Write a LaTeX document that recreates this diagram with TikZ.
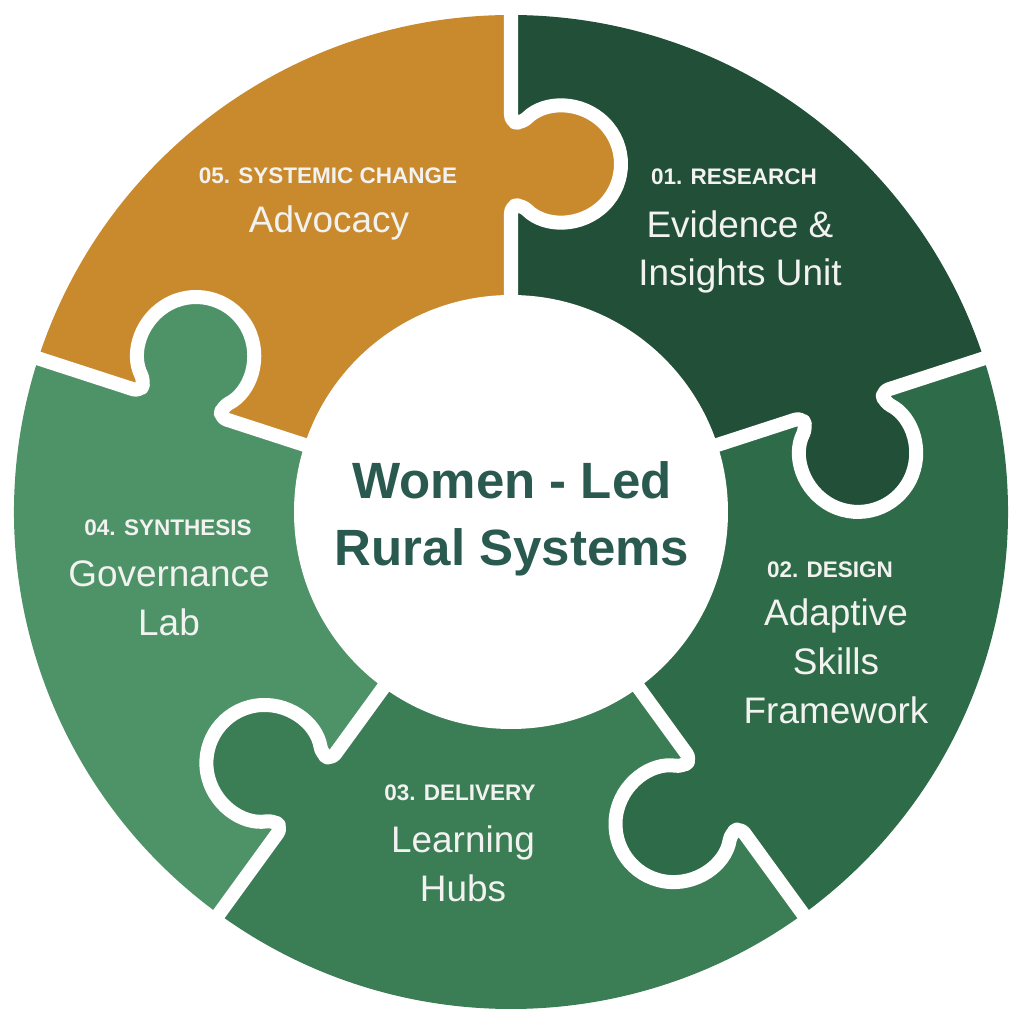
\documentclass[tikz,border=0pt]{standalone}
\usepackage{fontspec}
\setmainfont{Liberation Sans}
\usetikzlibrary{positioning}

\definecolor{pzOrange}{HTML}{C98A2E}
\definecolor{pzDeep}{HTML}{214F38}
\definecolor{pzDark}{HTML}{2E6B48}
\definecolor{pzMid}{HTML}{3B7D55}
\definecolor{pzLight}{HTML}{4E9268}
\definecolor{hubInk}{HTML}{2A5A4F}
\definecolor{pzInk}{HTML}{F2F2F0}

\begin{document}
\begin{tikzpicture}[
  x=0.01cm, y=0.01cm,
  gap/.style={draw=white, line width=0.14cm, line join=round, rounded corners=0.07cm},
  tag/.style={text=pzInk, font=\fontsize{6.4}{8}\selectfont\bfseries, inner sep=0pt, anchor=base},
  title/.style={text=pzInk, font=\fontsize{10.5}{13.9}\selectfont, align=center, inner sep=0pt, anchor=base},
  hub/.style={text=hubInk, font=\fontsize{14.5}{19}\selectfont\bfseries, align=center, inner sep=0pt, anchor=base},
]
\def\rin{200}\def\rout{497}\def\rhub{217}
\def\kc{348}\def\ko{52}\def\kr{58}\def\kn{42}
% tag at its baseline, title at the baseline of its last line
\def\piece#1#2#3#4#5#6#7{%
  \node[tag] (tag#1) at (#2,#3) {#4};
  \node[title] (name#1) at (#5,#6) {#7};}

\useasboundingbox (-511,-512) rectangle (513,512);

% ---- ring sectors -----------------------------------------------------------
\foreach \a/\c in {90/pzOrange, 18/pzDeep, -54/pzDark, -126/pzMid, 162/pzLight}{
  \fill[\c] (\a:\rin) -- (\a:\rout) arc[start angle=\a, delta angle=72, radius=\rout]
    -- ({\a+72}:\rin) arc[start angle=\a+72, delta angle=-72, radius=\rin] -- cycle;
}

% ---- tabs and gaps ----------------------------------------------------------
% each sector pushes a tab clockwise into its neighbour
\foreach \a/\c in {90/pzOrange, 18/pzDeep, -54/pzDark, -126/pzMid, 162/pzLight}{
  \begin{scope}[rotate=\a]
    \fill[\c] (\kc-\kn,2) rectangle (\kc+\kn,-25);
    \fill[\c] (\kc,-\ko) circle[radius=\kr];
    \draw[gap] (\rin,0) -- (\kc-\kn,0) -- ([shift={(\kc,-\ko)}]135:\kr)
      arc[start angle=135, end angle=405, radius=\kr] -- (\kc+\kn,0) -- (\rout+12,0);
  \end{scope}
}

% ---- hub --------------------------------------------------------------------
\fill[white] (0,0) circle[radius=\rhub];
\node[hub] (hub) at (1,-53) {Women - Led\\Rural Systems};

% ---- labels -----------------------------------------------------------------
\piece{Res}{223}{327}{01. RESEARCH}{229}{226}{Evidence \&\\Insights Unit}
\piece{Des}{319}{-65}{02. DESIGN}{325}{-211}{Adaptive\\Skills\\Framework}
\piece{Del}{-51}{-288}{03. DELIVERY}{-48}{-389}{Learning\\Hubs}
\piece{Syn}{-343}{-23}{04. SYNTHESIS}{-342}{-123}{Governance\\Lab}
\piece{Sys}{-183}{328}{05. SYSTEMIC CHANGE}{-182}{279}{Advocacy}
\end{tikzpicture}
\end{document}
